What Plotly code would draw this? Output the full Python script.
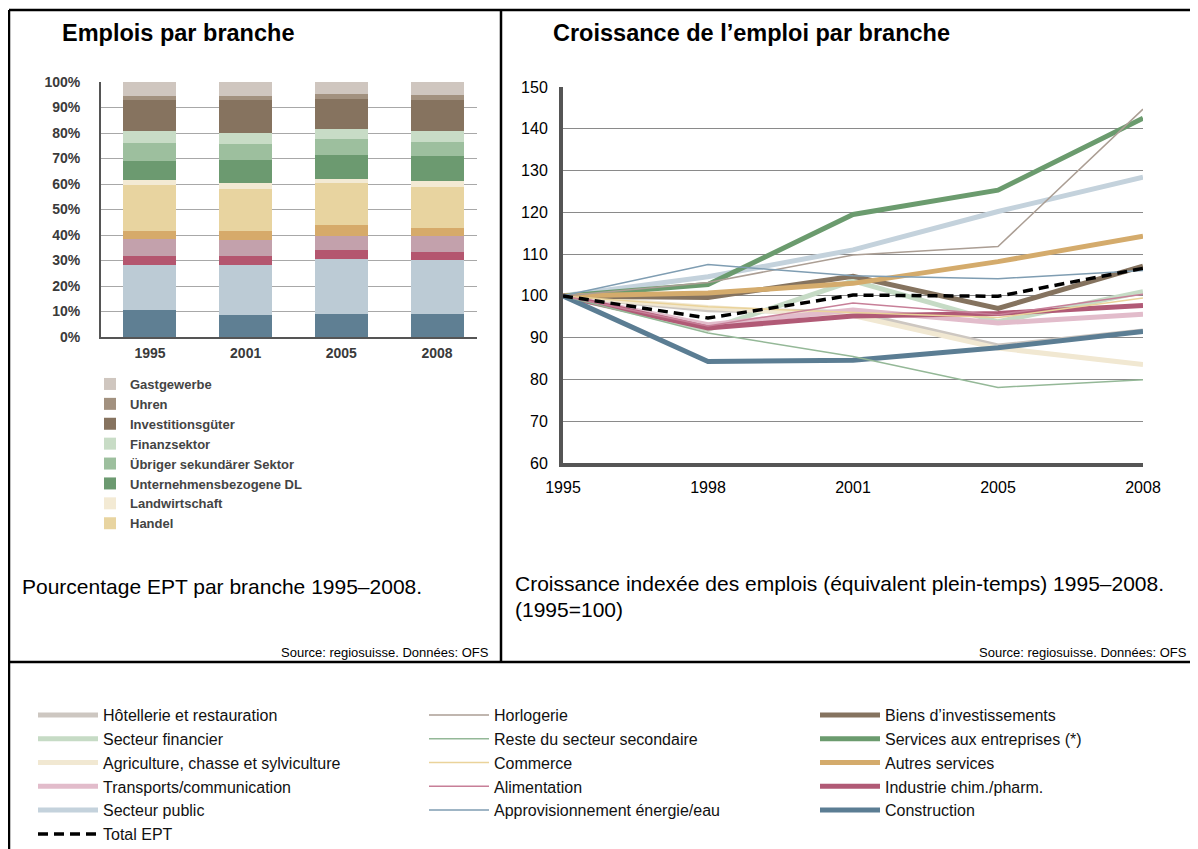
import plotly.graph_objects as go

# la page ajoute une marge de 8 px ; la zone visible s'arrête à 1190 px
OFF = 8
W, H = 1198 - 2 * OFF, 849 - OFF

# --- Emplois par branche : parts en %, empilées de bas en haut ---
annees_parts = ['1995', '2001', '2005', '2008']
bau = [10.5, 8.8, 9.2, 9.2]
oeffentlicher_sektor = [17.9, 19.6, 21.4, 20.9]
chemie_pharma = [3.5, 3.4, 3.4, 3.2]
verkehr = [6.4, 6.1, 5.6, 6.2]
sonstige_dl = [3.1, 3.5, 4.4, 3.4]
handel = [18.1, 16.8, 16.3, 15.9]
landwirtschaft = [1.9, 2.2, 1.7, 2.2]
unternehmens_dl = [7.5, 8.9, 9.5, 9.8]
uebriger_sek = [7.2, 6.3, 6.0, 5.7]
finanzsektor = [4.6, 4.4, 4.1, 4.2]
investitionsgueter = [12.1, 13.1, 11.6, 12.4]
uhren = [1.6, 1.3, 2.0, 1.9]
gastgewerbe = [5.6, 5.6, 4.8, 5.0]

# --- Croissance de l'emploi : indice 1995=100 ---
annees = ['1995', '1998', '2001', '2005', '2008']
hotellerie = [100, 96.7, 96.0, 88.0, 91.6]
financier = [100, 92.0, 103.6, 93.8, 101.0]
agriculture = [100, 97.2, 95.3, 87.5, 83.6]
transports = [100, 93.1, 96.6, 93.5, 95.6]
secteur_public = [100, 104.6, 111.0, 120.2, 128.4]
horlogerie = [100, 103.2, 109.8, 111.8, 144.7]
reste_secondaire = [100, 91.1, 85.5, 78.1, 79.9]
commerce = [100, 97.4, 96.0, 94.8, 99.5]
alimentation = [100, 92.8, 98.3, 95.5, 100.4]
energie_eau = [100, 107.5, 104.8, 104.1, 106.1]
biens_invest = [100, 99.6, 104.7, 97.0, 107.1]
services_entreprises = [100, 102.7, 119.5, 125.3, 142.5]
autres_services = [100, 100.7, 103.0, 108.2, 114.3]
chim_pharm = [100, 92.3, 95.2, 95.8, 97.7]
construction = [100, 84.3, 84.6, 87.6, 91.5]
total_ept = [100, 94.7, 100.2, 99.9, 106.6]

FONT = 'Arial, Liberation Sans, sans-serif'

fig = go.Figure()

# barres empilées (bas -> haut)
barres = [
    ('Bau', bau, '#5f7f93', False),
    ('Öffentlicher Sektor', oeffentlicher_sektor, '#bccbd5', False),
    ('Chemie/Pharma', chemie_pharma, '#b4566f', False),
    ('Verkehr', verkehr, '#c3a1ac', False),
    ('Sonstige DL', sonstige_dl, '#d6aa6a', False),
    ('Handel', handel, '#e8d4a0', True),
    ('Landwirtschaft', landwirtschaft, '#f3ead4', True),
    ('Unternehmensbezogene DL', unternehmens_dl, '#6c9a70', True),
    ('Übriger sekundärer Sektor', uebriger_sek, '#9dbf9e', True),
    ('Finanzsektor', finanzsektor, '#c8dcc6', True),
    ('Investitionsgüter', investitionsgueter, '#86735f', True),
    ('Uhren', uhren, '#a2917f', True),
    ('Gastgewerbe', gastgewerbe, '#cfc6bf', True),
]
for nom, vals, col, leg in barres:
    fig.add_trace(go.Bar(x=annees_parts, y=vals, name=nom, marker_color=col,
                         marker_line_width=0, showlegend=leg, legend='legend2',
                         xaxis='x', yaxis='y'))

# lignes : (nom, valeurs, couleur, épaisseur, rang légende)
lignes = [
    ('Hôtellerie et restauration', hotellerie, '#cdc7c1', 5, 1),
    ('Secteur financier', financier, '#c6dbc5', 5, 4),
    ('Agriculture, chasse et sylviculture', agriculture, '#f1e8d2', 5, 7),
    ('Transports/communication', transports, '#e2bccb', 5, 10),
    ('Secteur public', secteur_public, '#c4d2dc', 5, 13),
    ('Biens d’investissements', biens_invest, '#85735f', 5, 3),
    ('Services aux entreprises (*)', services_entreprises, '#6b9b6e', 5, 6),
    ('Autres services', autres_services, '#d4ab6c', 5, 9),
    ('Industrie chim./pharm.', chim_pharm, '#b15a76', 5, 12),
    ('Construction', construction, '#5b7d93', 5, 15),
    ('Horlogerie', horlogerie, '#ab9e94', 1.5, 2),
    ('Reste du secteur secondaire', reste_secondaire, '#94b897', 1.5, 5),
    ('Commerce', commerce, '#ead39a', 1.5, 8),
    ('Alimentation', alimentation, '#c77f98', 1.5, 11),
    ('Approvisionnement énergie/eau', energie_eau, '#7f9db2', 1.5, 14),
]
for nom, vals, col, lw, rang in lignes:
    fig.add_trace(go.Scatter(x=annees, y=vals, name=nom, mode='lines',
                             line=dict(color=col, width=lw), legendrank=rang,
                             legend='legend', xaxis='x2', yaxis='y2'))

fig.add_trace(go.Scatter(x=annees, y=total_ept, name='Total EPT', mode='lines',
                         line=dict(color='black', width=3.5, dash='10px,6px'),
                         legendrank=16, legend='legend', xaxis='x2', yaxis='y2'))

# positions repérées sur la page (px) -> coordonnées papier
def px_x(v):
    return (v - OFF) / W

def px_y(v):
    return 1 - (v - OFF) / H

fig.update_layout(
    width=W, height=H,
    margin=dict(l=0, r=0, t=0, b=0, autoexpand=False),
    paper_bgcolor='white', plot_bgcolor='white',
    font=dict(family=FONT, color='black'),
    barmode='stack', bargap=0.446,
    xaxis=dict(domain=[px_x(101), px_x(477)], range=[-0.512, 3.418],
               showline=True, linecolor='#555', linewidth=2,
               tickfont=dict(size=14, color='#3a3a3a', weight='bold'),
               ticks='outside', ticklen=0, ticklabelstandoff=2, anchor='y'),
    yaxis=dict(domain=[px_y(337), px_y(82)], range=[0, 100], dtick=10,
               ticksuffix='%', showline=True, linecolor='#555', linewidth=2,
               showgrid=True, gridcolor='#a8a8a8', gridwidth=1, zeroline=False,
               tickfont=dict(size=14, color='#3a3a3a', weight='bold'),
               ticks='outside', ticklen=0, ticklabelstandoff=16, anchor='x'),
    xaxis2=dict(domain=[px_x(563), px_x(1143)], range=[0, 4], type='category',
                showline=True, linecolor='#555', linewidth=4, showgrid=False,
                tickfont=dict(size=16, color='black'),
                ticks='outside', ticklen=0, ticklabelstandoff=7, anchor='y2'),
    yaxis2=dict(domain=[px_y(463), px_y(87)], range=[60, 150], dtick=10,
                showline=True, linecolor='#555', linewidth=4,
                showgrid=True, gridcolor='#8a8a8a', gridwidth=1.3, zeroline=False,
                tickfont=dict(size=16, color='black'),
                ticks='outside', ticklen=0, ticklabelstandoff=8, anchor='x2'),
    legend=dict(orientation='h', x=px_x(33), y=px_y(698), xanchor='left', yanchor='top',
                entrywidthmode='pixels', entrywidth=316, itemwidth=60,
                traceorder='normal', font=dict(size=16, color='#111'),
                bgcolor='rgba(0,0,0,0)'),
    legend2=dict(orientation='v', x=px_x(90), y=px_y(369), xanchor='left', yanchor='top',
                 traceorder='reversed', font=dict(size=13, color='#444', weight='bold'),
                 bgcolor='rgba(0,0,0,0)'),
)

def texte(t, x, y, size, anchor='left', bold=False, color='black'):
    fig.add_annotation(text=t, x=px_x(x), y=px_y(y), xref='paper', yref='paper',
                       xanchor=anchor, yanchor='middle', showarrow=False,
                       font=dict(family=FONT, size=size, color=color,
                                 weight='bold' if bold else 'normal'))

texte('Emplois par branche', 60, 33, 23.5, bold=True)
texte('Croissance de l’emploi par branche', 551, 33, 23.5, bold=True)
texte('Pourcentage EPT par branche 1995–2008.', 20, 586, 21)
texte('Croissance indexée des emplois (équivalent plein-temps) 1995–2008.', 513, 583, 21)
texte('(1995=100)', 513, 609, 21)
texte('Source: regiosuisse. Données: OFS', 491, 652, 13, anchor='right')
texte('Source: regiosuisse. Données: OFS', 1189, 652, 13, anchor='right')

# cadre
for x0, y0, x1, y1 in [(9, 10, 1190, 10), (9, 10, 9, 849), (501, 10, 501, 662), (9, 662, 1190, 662)]:
    fig.add_shape(type='line', xref='paper', yref='paper',
                  x0=px_x(x0), y0=px_y(y0), x1=px_x(x1), y1=px_y(y1),
                  line=dict(color='black', width=2.5))

fig.write_html("out.html")
